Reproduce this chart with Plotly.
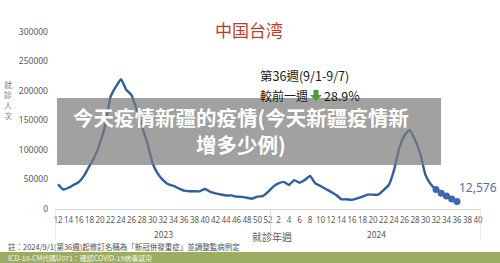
import plotly.graph_objects as go

# ---------------- data ----------------
weeks_2023 = list(range(12, 53))
cases_2023 = [42000, 33000, 36000, 41000, 46000, 57000, 73000, 89000, 112000, 142000,
              190000, 207000, 220000, 202000, 193000, 168000, 140000, 112000, 78000, 60000,
              49000, 42000, 39000, 35000, 31000, 30000, 30000, 30000, 34000, 29000,
              26500, 24500, 23000, 23000, 21000, 20500, 19000, 17500, 21000, 22000, 29000]
weeks_2024 = list(range(1, 41))
cases_2024 = [38000, 43500, 46000, 40700, 49000, 44600, 49000, 56000, 43500, 39000,
              34000, 29000, 23700, 16400, 16400, 15800, 18000, 21000, 24300, 24300,
              24300, 32000, 40700, 66000, 103000, 125000, 134000, 117000, 94000, 57600,
              42000, 33000, 26600, 22000, 17000, 12576]
marker_weeks_2024 = [32, 33, 34, 35, 36]
y_ticks = [0, 50000, 100000, 150000, 200000, 250000, 300000]
latest_label = "12,576"

# ---------------- helpers ----------------
W, H = 500, 263
PL, PR, PT, PB = 55, 481, 32, 209          # plot area in pixels


def px(x):
    return (x - PL) / (PR - PL)


def py(y):
    return (PB - y) / (PB - PT)


labels = [str(w) for w in weeks_2023] + [str(w) for w in weeks_2024]
n_cat = len(labels)
x_all = list(range(n_cat))
idx_2023 = list(range(len(weeks_2023)))
idx_2024 = [len(weeks_2023) + w - 1 for w in weeks_2024[:len(cases_2024)]]
xs = idx_2023 + idx_2024
ys = cases_2023 + cases_2024
mk_x = [len(weeks_2023) + w - 1 for w in marker_weeks_2024]
mk_y = [cases_2024[w - 1] for w in marker_weeks_2024]

tickvals = x_all[::2]
ticktext = labels[::2]

unit = (PR - PL) / 81.14
x_lo = -(58 - PL) / unit
x_hi = x_lo + (PR - PL) / unit

fig = go.Figure()
fig.add_trace(go.Scatter(x=xs, y=ys, mode="lines",
                         line=dict(color="#2f5f9e", width=2.4, shape="spline", smoothing=0.4),
                         hoverinfo="skip", showlegend=False))
fig.add_trace(go.Scatter(x=mk_x, y=mk_y, mode="markers",
                         marker=dict(color="#3f67b0", size=7),
                         hoverinfo="skip", showlegend=False))

FONT = "Noto Sans CJK TC, Noto Sans, sans-serif"
shapes = []
# separators below the axis
for xv in [x_lo, len(weeks_2023) - 0.5, x_hi]:
    shapes.append(dict(type="line", xref="x", yref="paper", x0=xv, x1=xv,
                       y0=0, y1=py(241), line=dict(color="#d9d9d9", width=1)))
# grey banner
shapes.append(dict(type="rect", xref="paper", yref="paper", layer="above",
                   x0=px(57), x1=px(441), y0=py(98), y1=py(165),
                   fillcolor="rgba(125,125,125,0.72)", line=dict(width=0)))
# bottom green bar
shapes.append(dict(type="rect", xref="paper", yref="paper", layer="above",
                   x0=px(0), x1=px(W), y0=py(252), y1=py(H + 2),
                   fillcolor="#9cac62", line=dict(width=0)))
# green down arrow
pts = [(313.5, 90), (318.5, 90), (318.5, 95), (322, 95), (316, 101), (310, 95), (313.5, 95)]
path = "M " + " L ".join(f"{px(a):.5f},{py(b):.5f}" for a, b in pts) + " Z"
shapes.append(dict(type="path", xref="paper", yref="paper", path=path,
                   fillcolor="#4f9a3a", line=dict(width=0)))

ann = []


def add_text(text, x, y, size, color, xanchor="left", bold=False, font=FONT):
    t = f"<b>{text}</b>" if bold else text
    ann.append(dict(text=t, xref="paper", yref="paper", x=px(x), y=py(y),
                    xanchor=xanchor, yanchor="middle", showarrow=False,
                    font=dict(size=size, color=color, family=font)))


add_text("中国台湾", 249, 29.5, 17, "#b5402f", xanchor="center", font="Noto Sans CJK SC")
add_text("第36週(9/1-9/7)", 258, 75, 12.5, "#1a1a1a")
add_text("較前一週", 258, 95.5, 12, "#1a1a1a")
add_text("28.9%", 322, 95.5, 12.5, "#1a1a1a")
add_text("就<br>診<br>人<br>次", 8, 100, 8, "#808080", xanchor="center")
add_text("2023", 163, 234, 8.5, "#595959", xanchor="center")
add_text("2024", 376, 234, 8.5, "#595959", xanchor="center")
add_text("就診年週", 272, 236, 10, "#595959", xanchor="center")
add_text("今天疫情新疆的疫情(今天新疆疫情新<br>增多少例)", 241, 130.5, 20.5, "#ffffff",
         xanchor="center", bold=True)
add_text("註：2024/9/1(第36週)起修訂名稱為「新冠併發重症」並調整監病例定", 6, 246, 7.5, "#4d4d4d")
add_text("ICD-10-CM代碼U071：確認COVID-19病毒感染", 6, 258, 7, "#f4f4ea")
ann.append(dict(text=latest_label, xref="x", yref="paper", x=mk_x[-1], y=py(187),
                xanchor="left", yanchor="middle", xshift=0, showarrow=False,
                font=dict(size=12, color="#4a70b3", family="Noto Sans, sans-serif")))

fig.update_layout(
    width=W, height=H,
    margin=dict(l=PL, r=W - PR, t=PT, b=H - PB),
    paper_bgcolor="white", plot_bgcolor="white",
    shapes=shapes, annotations=ann,
    xaxis=dict(range=[x_lo, x_hi], tickvals=tickvals, ticktext=ticktext,
               showgrid=False, zeroline=False, showline=True, linecolor="#d9d9d9",
               ticks="", tickangle=0, ticklabelstandoff=3,
               tickfont=dict(size=8, color="#595959", family="Noto Sans, sans-serif"),
               fixedrange=True),
    yaxis=dict(range=[0, 300000], tickvals=y_ticks, ticktext=[str(v) for v in y_ticks],
               showgrid=False, zeroline=False, showline=False, ticks="",
               ticklabelstandoff=6,
               tickfont=dict(size=8.5, color="#595959", family="Noto Sans, sans-serif"),
               fixedrange=True),
)

fig.write_html("out.html")
